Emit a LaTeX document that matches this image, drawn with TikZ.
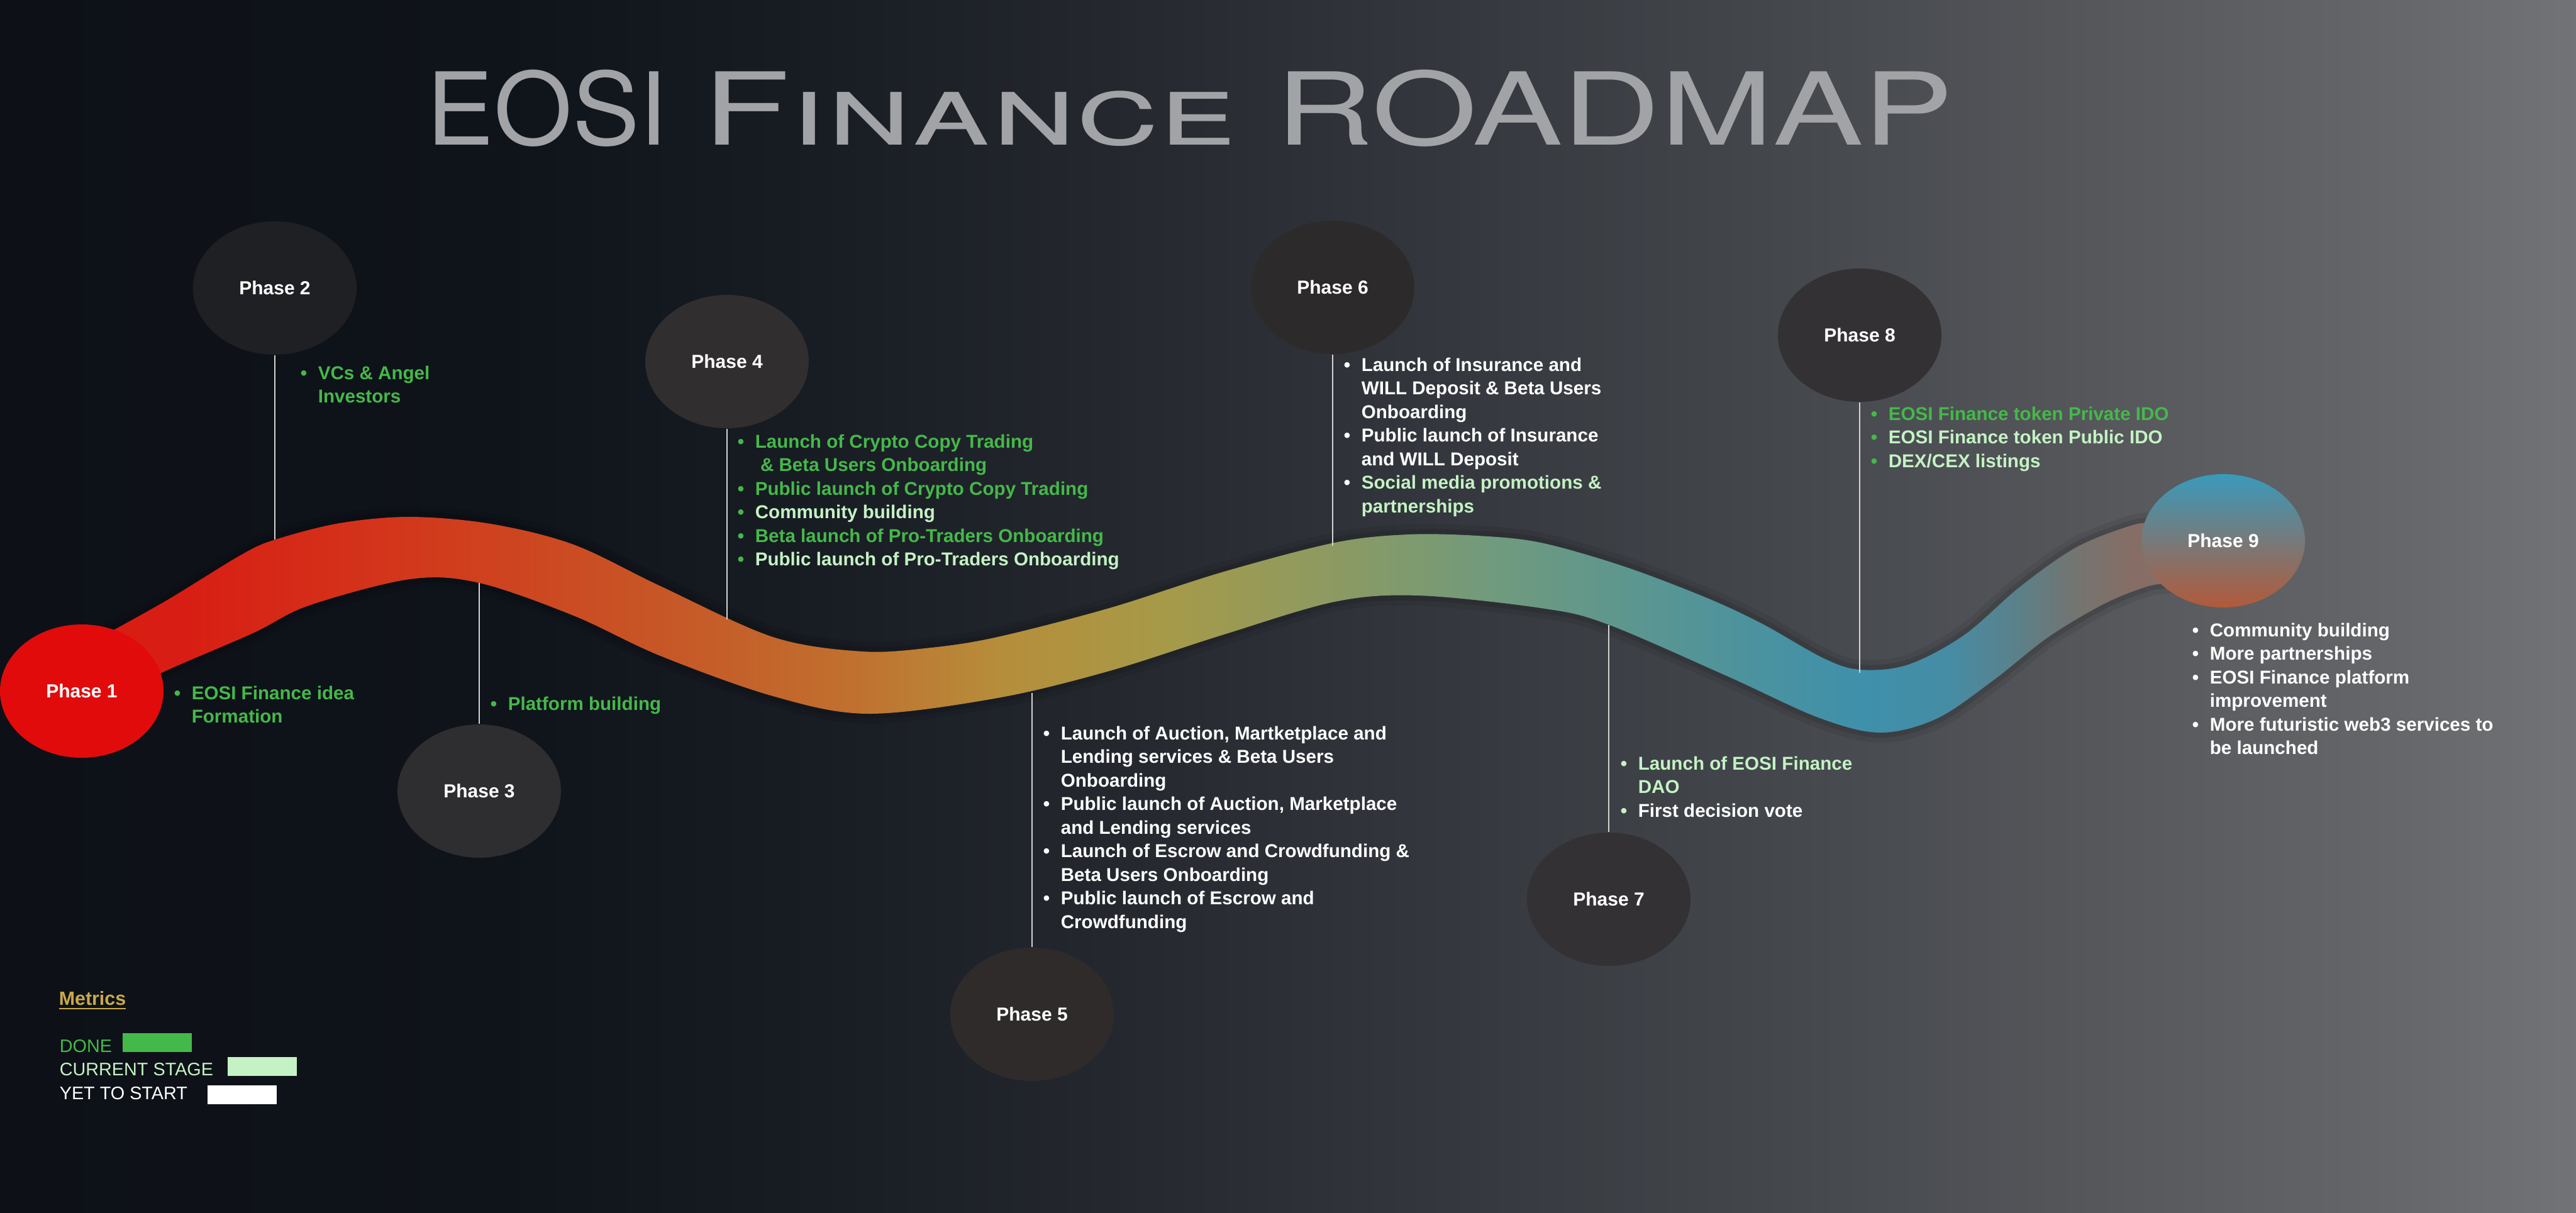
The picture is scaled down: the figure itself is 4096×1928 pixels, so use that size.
\documentclass[tikz,border=0pt]{standalone}
\usepackage{fontspec}
\setmainfont{Liberation Sans}
\newfontfamily\titlefont{TeX Gyre Heros}
\usepackage{graphicx}
\usetikzlibrary{shapes.geometric}

\definecolor{dg}{HTML}{45B84A}
\definecolor{lg}{HTML}{C4F2C4}
\definecolor{gold}{HTML}{C9A94A}
\definecolor{stemc}{HTML}{D4D4D4}
\definecolor{titlec}{HTML}{A2A3A6}
\definecolor{p1c}{HTML}{E10B0B}
\definecolor{p2c}{HTML}{1F2023}
\definecolor{p3c}{HTML}{2E2D2F}
\definecolor{p4c}{HTML}{302E2F}
\definecolor{p5c}{HTML}{2F2B2B}
\definecolor{p6c}{HTML}{2C2A2B}
\definecolor{p7c}{HTML}{333133}
\definecolor{p8c}{HTML}{333133}
\definecolor{p9t}{HTML}{3A9ABB}
\definecolor{p9m}{HTML}{7A7878}
\definecolor{p9b}{HTML}{B25A3A}

\definecolor{bg0}{HTML}{0D1117}
\definecolor{bg1}{HTML}{0F131A}
\definecolor{bg2}{HTML}{181C23}
\definecolor{bg3}{HTML}{25292F}
\definecolor{bg4}{HTML}{34373D}
\definecolor{bg5}{HTML}{43464B}
\definecolor{bg6}{HTML}{54565A}
\definecolor{bg7}{HTML}{646669}
\definecolor{bg8}{HTML}{717376}

\definecolor{ra}{HTML}{D81A12}
\definecolor{rb}{HTML}{D81E14}
\definecolor{rc}{HTML}{D2381C}
\definecolor{rd}{HTML}{CB4B22}
\definecolor{re}{HTML}{C65A28}
\definecolor{rf}{HTML}{C0702F}
\definecolor{rg}{HTML}{B68D3A}
\definecolor{rh}{HTML}{A69A48}
\definecolor{ri}{HTML}{8C9A62}
\definecolor{rj}{HTML}{6F9A7E}
\definecolor{rk}{HTML}{5C9690}
\definecolor{rl}{HTML}{4A929F}
\definecolor{rm}{HTML}{3F90AB}
\definecolor{rn}{HTML}{468CA4}
\definecolor{ro}{HTML}{5C8088}
\definecolor{rp}{HTML}{747470}
\definecolor{rq}{HTML}{866E66}

\pgfdeclarehorizontalshading{bgshade}{100bp}{color(0bp)=(bg0); color(25bp)=(bg0); color(34.77bp)=(bg1); color(40.87bp)=(bg2); color(46.97bp)=(bg3); color(53.08bp)=(bg4); color(59.18bp)=(bg5); color(65.28bp)=(bg6); color(71.39bp)=(bg7); color(75bp)=(bg8); color(100bp)=(bg8)}

\pgfdeclarehorizontalshading{ribbonshade}{100bp}{color(0bp)=(ra); color(25bp)=(ra); color(28.66bp)=(rb); color(32.93bp)=(rc); color(35.99bp)=(rd); color(38.43bp)=(re); color(41.48bp)=(rf); color(44.36bp)=(rg); color(47.58bp)=(rh); color(50.90bp)=(ri); color(54.17bp)=(rj); color(56.74bp)=(rk); color(59.18bp)=(rl); color(61.13bp)=(rm); color(62.84bp)=(rn); color(64.21bp)=(ro); color(65.31bp)=(rp); color(66.39bp)=(rq); color(75bp)=(rq); color(100bp)=(rq)}

\newcommand\itm[2]{\makebox[7pt][l]{\textbullet}\textcolor{#1}{#2}}
\newcommand\cnt[2]{\hspace*{7pt}\textcolor{#1}{#2}}

\tikzset{
  phase/.style={ellipse, minimum width=65pt, minimum height=53pt, inner sep=0pt,
    text=white, font=\fontsize{7.5}{9}\selectfont\bfseries},
  blist/.style={anchor=north west, inner sep=0pt, align=left,
    font=\fontsize{7.4}{9.375}\selectfont\bfseries},
  stem/.style={draw=stemc, line width=0.6pt},
  legbox/.style={minimum width=27.5pt, minimum height=7.5pt, inner sep=0pt},
  legtext/.style={anchor=base west, inner sep=0pt, font=\fontsize{7.2}{8}\selectfont},
  bandpath/.style={insert path={
    plot[smooth, tension=0.55] coordinates {(175,1005) (268,953) (384,882) (438,858) (540,832) (652,822) (780,833) (912,866) (1050,932) (1229,1013) (1371,1036) (1480,1030) (1586,1013) (1764,967) (1943,910) (2122,863) (2238,850) (2350,852) (2450,863) (2580,900) (2712,950) (2802,992) (2900,1047) (2958,1065) (3034,1057) (3123,1010) (3212,933) (3302,870) (3391,835) (3425,832)}
    -- plot[smooth, tension=0.55] coordinates {(3445,928) (3413,933) (3346,960) (3257,1013) (3168,1083) (3079,1143) (2989,1165) (2891,1141) (2748,1076) (2554,992) (2450,967) (2255,947) (2122,957) (1943,1010) (1764,1067) (1586,1110) (1380,1135) (1229,1107) (1050,1043) (912,979) (762,927) (652,921) (491,963) (402,1007) (257,1070) (228,1092)}
    -- cycle}},
}

\begin{document}
\begin{tikzpicture}[x=0.25pt, y=-0.25pt]
\useasboundingbox (0,0) rectangle (4096,1928);
\shade[shading=bgshade] (0,0) rectangle (4096,1928);

% title
\node[anchor=base west, inner sep=0pt, text=titlec,
  font=\titlefont\fontsize{40}{44}\selectfont] (title) at (678,230)
  {\scalebox{1.0}[1]{EOSI}\hspace{3pt} \scalebox{1.42}[1]{F\textsc{inance}}\hspace{5pt} \scalebox{1.345}[1]{ROADMAP}};

% ribbon
\draw[black, opacity=.07, line width=8pt, bandpath];
\draw[black, opacity=.10, line width=4pt, bandpath];
\begin{scope}
  \path[clip, bandpath];
  \shade[shading=ribbonshade] (0,700) rectangle (4096,1300);
\end{scope}

% ribbon anchor points for the stems
\coordinate (r2) at (437,858);
\coordinate (r3) at (762,927);
\coordinate (r4) at (1156,985);
\coordinate (r5) at (1641,1102);
\coordinate (r6) at (2119,868);
\coordinate (r7) at (2558,994);
\coordinate (r8) at (2957,1070);

% phase circles
\node[phase, fill=p1c] (p1) at (130,1099) {Phase 1};
\node[phase, fill=p2c] (p2) at (437,458) {Phase 2};
\node[phase, fill=p3c] (p3) at (762,1258) {Phase 3};
\node[phase, fill=p4c] (p4) at (1156,575) {Phase 4};
\node[phase, fill=p5c] (p5) at (1641,1613) {Phase 5};
\node[phase, fill=p6c] (p6) at (2119,457) {Phase 6};
\node[phase, fill=p7c] (p7) at (2558,1430) {Phase 7};
\node[phase, fill=p8c] (p8) at (2957,533) {Phase 8};
\node[phase, top color=p9t, middle color=p9m, bottom color=p9b] (p9) at (3535,860) {Phase 9};

% stems
\draw[stem] (p2.south) -- (r2);
\draw[stem] (p3.north) -- (r3);
\draw[stem] (p4.south) -- (r4);
\draw[stem] (p5.north) -- (r5);
\draw[stem] (p6.south) -- (r6);
\draw[stem] (p7.north) -- (r7);
\draw[stem] (p8.south) -- (r8);

% bullet lists
\node[blist, text=dg] (t1) at (276,1090)
  {\itm{dg}{EOSI Finance idea}\\ \cnt{dg}{Formation}};
\node[blist, text=dg] (t2) at (477,581)
  {\itm{dg}{VCs \& Angel}\\ \cnt{dg}{Investors}};
\node[blist, text=dg] (t3) at (779,1107)
  {\itm{dg}{Platform building}};
\node[blist, text=dg] (t4) at (1172,690)
  {\itm{dg}{Launch of Crypto Copy Trading}\\
   \cnt{dg}{\ \& Beta Users Onboarding}\\
   \itm{dg}{Public launch of Crypto Copy Trading}\\
   \itm{lg}{Community building}\\
   \itm{dg}{Beta launch of Pro-Traders Onboarding}\\
   \itm{lg}{Public launch of Pro-Traders Onboarding}};
\node[blist, text=white] (t5) at (1658,1154)
  {\itm{white}{Launch of Auction, Martketplace and}\\
   \cnt{white}{Lending services \& Beta Users}\\
   \cnt{white}{Onboarding}\\
   \itm{white}{Public launch of Auction, Marketplace}\\
   \cnt{white}{and Lending services}\\
   \itm{white}{Launch of Escrow and Crowdfunding \&}\\
   \cnt{white}{Beta Users Onboarding}\\
   \itm{white}{Public launch of Escrow and}\\
   \cnt{white}{Crowdfunding}};
\node[blist, text=white] (t6) at (2136,568)
  {\itm{white}{Launch of Insurance and}\\
   \cnt{white}{WILL Deposit \& Beta Users}\\
   \cnt{white}{Onboarding}\\
   \itm{white}{Public launch of Insurance}\\
   \cnt{white}{and WILL Deposit}\\
   \itm{lg}{Social media promotions \&}\\
   \cnt{lg}{partnerships}};
\node[blist, text=lg] (t7) at (2576,1202)
  {\itm{lg}{Launch of EOSI Finance}\\
   \cnt{lg}{DAO}\\
   \itm{white}{First decision vote}};
\node[blist, text=dg] (t8) at (2974,646)
  {\itm{dg}{EOSI Finance token Private IDO}\\
   \itm{lg}{EOSI Finance token Public IDO}\\
   \itm{lg}{DEX/CEX listings}};
\node[blist, text=white] (t9) at (3485,990)
  {\itm{white}{Community building}\\
   \itm{white}{More partnerships}\\
   \itm{white}{EOSI Finance platform}\\
   \cnt{white}{improvement}\\
   \itm{white}{More futuristic web3 services to}\\
   \cnt{white}{be launched}};

% legend
\node[anchor=base west, inner sep=0pt, text=gold,
  font=\fontsize{7.6}{9}\selectfont\bfseries] (metrics) at (93,1598) {\underline{Metrics}};
\node[legtext, text=dg] (done) at (94,1673) {DONE};
\node[legbox, fill=dg] (donebox) at (250,1658) {};
\node[legtext, text=lg] (cur) at (94,1710) {CURRENT STAGE};
\node[legbox, fill=lg] (curbox) at (417,1695.5) {};
\node[legtext, text=white] (yet) at (94,1748) {YET TO START};
\node[legbox, fill=white] (yetbox) at (385,1740.5) {};
\end{tikzpicture}
\end{document}
